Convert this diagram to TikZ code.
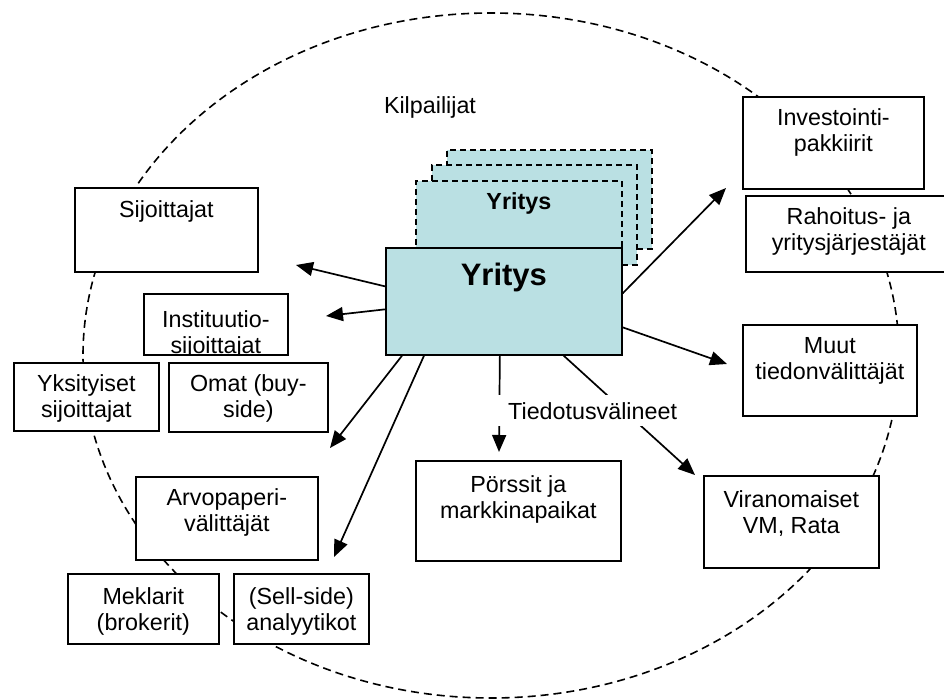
\documentclass[tikz,border=0pt]{standalone}
\usepackage{fontspec}
\setmainfont{Liberation Sans}
\usetikzlibrary{positioning,arrows.meta}
\definecolor{firmcyan}{RGB}{186,224,227}
\tikzset{
  box/.style={draw, line width=1.7pt, fill=white, inner sep=0pt, anchor=north west},
  firm/.style={box, fill=firmcyan},
  ghost/.style={firm, dash pattern=on 6pt off 4pt},
  txt/.style={inner sep=0pt, align=center, font=\fontsize{23.3}{26.5}\selectfont},
  arr/.style={line width=1.7pt, -{Triangle[length=17pt,width=14pt]}}
}

\begin{document}
\begin{tikzpicture}[x=1pt,y=-1pt]

\useasboundingbox (0,0) rectangle (944,700);
\clip (0,0) rectangle (944,700);

\draw[line width=1.6pt, dash pattern=on 8pt off 5pt] (491,355.5) ellipse [x radius=408, y radius=342.5];

\node[ghost, minimum width=205, minimum height=99] (G3) at (446,149) {};
\node[ghost, minimum width=205, minimum height=100] (G2) at (431,164) {};
\node[ghost, minimum width=206, minimum height=100] (G1) at (415,180) {};
\node[txt, font=\bfseries\fontsize{23.3}{26.5}\selectfont, below=12pt of G1.north] (G1t) {Yritys};

\node[firm, minimum width=236, minimum height=107] (Yr) at (385,247) {};
\node[txt, font=\bfseries\fontsize{31}{36}\selectfont, below=16pt of Yr.north] (Yrt) {Yritys};

\node[txt, anchor=base] (Kilp) at (430,114) {Kilpailijat};

\node[box, minimum width=183, minimum height=84] (Sij) at (74,187) {};
\node[txt, below=13pt of Sij.north] (Sijt) {Sijoittajat};

\node[box, minimum width=144, minimum height=61] (Inst) at (143,293) {};
\begin{scope}
\clip (Inst.south west) rectangle (Inst.north east);
\node[txt, below=17pt of Inst.north] (Instt) {Instituutio-\\sijoittajat};
\end{scope}

\node[box, minimum width=145, minimum height=68] (Yks) at (13,362) {};
\node[txt, below=12pt of Yks.north] (Ykst) {Yksityiset\\sijoittajat};
\node[box, minimum width=159, minimum height=69] (Omat) at (168,362) {};
\node[txt, below=12pt of Omat.north] (Omatt) {Omat (buy-\\side)};

\node[box, minimum width=182, minimum height=83] (Arvo) at (135,476) {};
\node[txt, below=12pt of Arvo.north] (Arvot) {Arvopaperi-\\välittäjät};
\node[box, minimum width=151, minimum height=70] (Mek) at (67,573) {};
\node[txt, below=14pt of Mek.north] (Mekt) {Meklarit\\(brokerit)};
\node[box, minimum width=135, minimum height=70] (Ana) at (233,573) {};
\node[txt, below=14pt of Ana.north] (Anat) {(Sell-side)\\analyytikot};

\node[box, minimum width=205, minimum height=100] (Pors) at (415,460) {};
\node[txt, below=15pt of Pors.north] (Porst) {Pörssit ja\\markkinapaikat};
\node[box, minimum width=175, minimum height=92] (Viran) at (703,475) {};
\node[txt, below=15pt of Viran.north] (Virant) {Viranomaiset\\VM, Rata};

\node[box, minimum width=174, minimum height=91] (Muut) at (742,324) {};
\node[txt, below=13pt of Muut.north] (Muutt) {Muut\\tiedonvälittäjät};
\node[box, minimum width=181, minimum height=92] (Inv) at (742,96) {};
\node[txt, below=12pt of Inv.north] (Invt) {Investointi-\\pakkiirit};
\node[box, minimum width=206, minimum height=76] (Rah) at (745,195) {};
\node[txt, below=12pt of Rah.north] (Raht) {Rahoitus- ja\\yritysjärjestäjät};

\coordinate (SijTip) at (296,265);
\coordinate (InstTip) at (326,316);
\coordinate (ArvoTip) at (330,448);
\coordinate (AnaTip) at (334,557);
\coordinate (PorsTip) at (499,452);
\coordinate (ViranTip) at (695,475);
\coordinate (MuutTip) at (727,364);
\coordinate (InvTip) at (726,188);

\draw[arr] ([yshift=15pt]Yr.west) -- (SijTip);
\draw[arr] ([yshift=-8pt]Yr.west) -- (InstTip);
\draw[arr] ([xshift=17pt]Yr.south west) -- (ArvoTip);
\draw[arr] ([xshift=39pt]Yr.south west) -- (AnaTip);
\draw[arr] ([xshift=-4pt]Yr.south) -- (PorsTip);
\draw[arr] ([xshift=-59pt]Yr.south east) -- (ViranTip);
\draw[arr] ([yshift=-26pt]Yr.east) -- (MuutTip);
\draw[arr] ([yshift=8pt]Yr.east) -- (InvTip);

\node[txt, fill=white, inner xsep=12pt, inner ysep=7pt, anchor=base west] (Media) at (496,419) {Tiedotusvälineet};

\end{tikzpicture}
\end{document}
